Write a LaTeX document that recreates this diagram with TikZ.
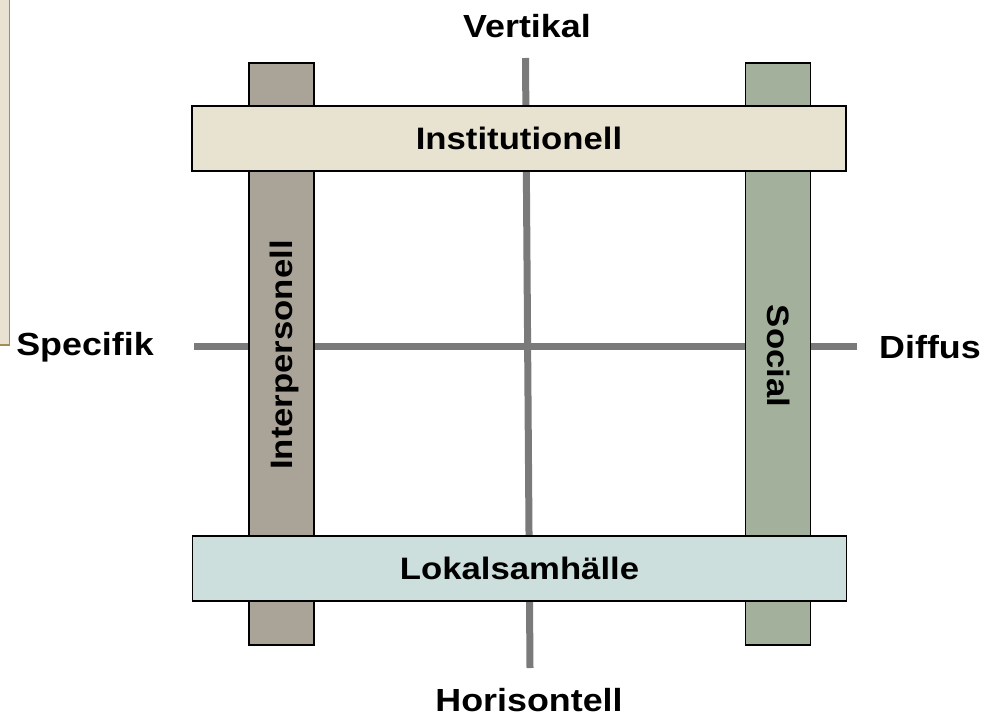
\documentclass[tikz,border=0pt]{standalone}
\usepackage{fontspec}
\setmainfont{Liberation Sans}[FakeStretch=1.12]
\definecolor{axisgray}{HTML}{7A7A7A}
\definecolor{interfill}{HTML}{AAA398}
\definecolor{socialfill}{HTML}{A3B09B}
\definecolor{instfill}{HTML}{E8E2D1}
\definecolor{lokalfill}{HTML}{CCDFDC}
\definecolor{sidefill}{HTML}{E9E2D2}
\definecolor{sideborder}{HTML}{A48D55}
\begin{document}
\begin{tikzpicture}[x=1pt,y=-1pt,
  lbl/.style={font=\fontsize{32}{36}\selectfont\bfseries, inner sep=0pt},
  barlbl/.style={font=\fontsize{31}{36}\selectfont\bfseries, inner sep=0pt},
  axisline/.style={draw=axisgray, line width=7pt},
  vbar/.style={draw=black, line width=1.3pt, minimum width=65pt, minimum height=582pt, inner sep=0pt},
  hbar/.style={draw=black, line width=1.3pt, minimum width=654pt, minimum height=65pt, inner sep=0pt}]
\useasboundingbox (0,0) rectangle (990,717);
\clip (0,0) rectangle (990,717);
\fill[white] (0,0) rectangle (990,717);
% partial box at left edge
\draw[fill=sidefill, draw=sideborder, line width=1.5pt] (-20,-20) rectangle (9.5,345);
% axes
\coordinate (vtop) at (525.5,58);
\coordinate (vbot) at (530,668);
\coordinate (hleft) at (194,346);
\coordinate (hright) at (857,346);
\draw[axisline] (vtop) -- (vbot);
\draw[axisline] (hleft) -- (hright);
% vertical bars
\node[vbar, fill=interfill] (interbar) at (281.5,354) {};
\node[vbar, fill=socialfill] (socialbar) at (778,354) {};
\node[barlbl, rotate=90] (intertxt) at (284,355) {Interpersonell};
\node[barlbl, rotate=-90] (socialtxt) at (779,356) {Social};
% horizontal bars
\node[hbar, fill=instfill] (inst) at (519,138.5) {\fontsize{31}{36}\selectfont\bfseries Institutionell};
\node[hbar, fill=lokalfill] (lokal) at (519.5,568.5) {\fontsize{31}{36}\selectfont\bfseries Lokalsamhälle};
% axis labels
\node[lbl] (vert) at (527,26) {Vertikal};
\node[lbl] (hor) at (529,700) {Horisontell};
\node[lbl] (spec) at (85,347) {Specifik};
\node[lbl] (diff) at (930,347) {Diffus};
\end{tikzpicture}
\end{document}
